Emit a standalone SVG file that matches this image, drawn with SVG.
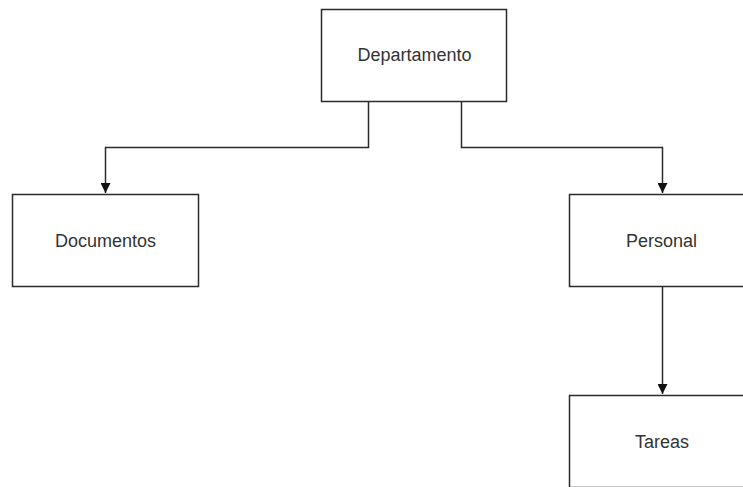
<svg xmlns="http://www.w3.org/2000/svg" width="743" height="487" viewBox="0 0 743 487">
<style>
.box{fill:#fff;stroke:#2b2b2b;stroke-width:1.5}
.lbl{font-family:"Liberation Sans",Arial,sans-serif;font-size:18px;fill:#333;text-anchor:middle;dominant-baseline:central}
.edge{fill:none;stroke:#2b2b2b;stroke-width:1.5}
</style>
<defs>
<marker id="arr" viewBox="0 0 10 10" refX="10" refY="5" markerWidth="10" markerHeight="10" markerUnits="userSpaceOnUse" orient="auto">
<path d="M0,0 L10,5 L0,10 Z" fill="#111"/>
</marker>
</defs>
<rect width="743" height="487" fill="#fff"/>
<g id="connectors">
<path class="edge" d="M368.5,101.5 V147.5 H105.5 V193" marker-end="url(#arr)"/>
<path class="edge" d="M461.5,101.5 V147.5 H662.5 V193" marker-end="url(#arr)"/>
<path class="edge" d="M662.5,286.5 V394" marker-end="url(#arr)"/>
</g>
<g id="departamento">
<rect class="box" x="321.5" y="9.5" width="185" height="92"/>
<text class="lbl" x="414.5" y="55">Departamento</text>
</g>
<g id="documentos">
<rect class="box" x="12.5" y="194.5" width="186" height="92"/>
<text class="lbl" x="105.5" y="240.5">Documentos</text>
</g>
<g id="personal">
<rect class="box" x="569.5" y="194.5" width="186" height="92"/>
<text class="lbl" x="661.5" y="240.5">Personal</text>
</g>
<g id="tareas">
<rect class="box" x="569.5" y="395.5" width="186" height="92"/>
<text class="lbl" x="662" y="441.5">Tareas</text>
</g>
</svg>
